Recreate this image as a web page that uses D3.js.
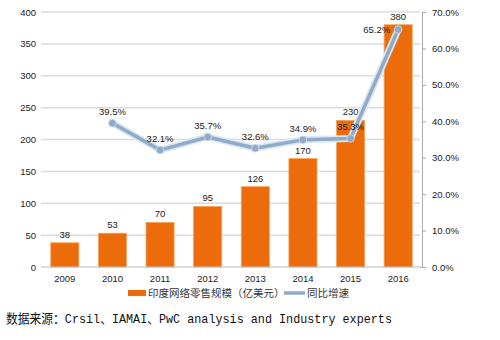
<!DOCTYPE html>
<html>
<head>
<meta charset="utf-8">
<script src="https://cdn.jsdelivr.net/npm/d3@7"></script>
<style>
  body { margin: 0; background: #fff; }
  svg text { fill: #222; }
</style>
</head>
<body>
<div id="chart"></div>
<script>
const years = ["2009", "2010", "2011", "2012", "2013", "2014", "2015", "2016"];
const retail = [38, 53, 70, 95, 126, 170, 230, 380];
const growth = [null, 39.5, 32.1, 35.7, 32.6, 34.9, 35.3, 65.2];
const leftTicks = [0, 50, 100, 150, 200, 250, 300, 350, 400];
const rightTicks = [0, 10, 20, 30, 40, 50, 60, 70];
const barName = "印度网络零售规模（亿美元）";
const lineName = "同比增速";
const source = "数据来源：Crsil、IAMAI、PwC analysis and Industry experts";

const barColor = "#ec6c0c";
const lineColor = "#90aac8";
const sans = "'Liberation Sans', 'Noto Sans CJK SC', sans-serif";

var svg = d3.select("#chart").append("svg").attr("width", 500).attr("height", 340);
var margin = {top: 12, right: 78, bottom: 73, left: 41};
var width = 500 - margin.left - margin.right;
var height = 340 - margin.top - margin.bottom;
var g = svg.append("g").attr("transform", "translate(" + margin.left + "," + margin.top + ")");

var x = d3.scaleBand().domain(years).range([0, width]).paddingInner(0.41).paddingOuter(0.205);
var y = d3.scaleLinear().domain([0, 400]).range([height, 0]);
var y2 = d3.scaleLinear().domain([0, 70]).range([height, 0]);

// gridlines
g.selectAll(".grid").data(leftTicks.filter(d => d > 0)).enter().append("line")
  .attr("x1", 0).attr("x2", width - 2)
  .attr("y1", d => y(d)).attr("y2", d => y(d))
  .attr("stroke", "#dcdcdc").attr("stroke-width", 1.5);

// left axis
g.append("g")
  .call(d3.axisLeft(y).tickValues(leftTicks).tickSize(0).tickPadding(5))
  .call(a => a.select(".domain").remove())
  .call(a => a.selectAll("text").style("font-size", "9.5px").style("fill", "#222").style("font-family", sans));

// right axis
g.append("g")
  .attr("transform", `translate(${width},0)`)
  .call(d3.axisRight(y2).tickValues(rightTicks).tickSize(4).tickPadding(6).tickFormat(d => d.toFixed(1) + "%"))
  .call(a => a.select(".domain").attr("stroke", "#aaa"))
  .call(a => a.selectAll(".tick line").attr("stroke", "#aaa"))
  .call(a => a.selectAll("text").style("font-size", "9.5px").style("fill", "#222").style("font-family", sans));

// bars
g.selectAll(".bar").data(years).enter().append("rect")
  .attr("x", d => x(d))
  .attr("y", (d, i) => y(retail[i]))
  .attr("width", x.bandwidth())
  .attr("height", (d, i) => height - y(retail[i]))
  .attr("fill", barColor)
  .attr("stroke", "#f6a35c").attr("stroke-width", 0.8);

// x baseline
g.append("line").attr("x1", 0).attr("x2", width).attr("y1", height).attr("y2", height)
  .attr("stroke", "#bbb").attr("stroke-width", 1);

// x labels
g.append("g")
  .attr("transform", `translate(0,${height})`)
  .call(d3.axisBottom(x).tickSize(0).tickPadding(8))
  .call(a => a.select(".domain").remove())
  .call(a => a.selectAll("text").style("font-size", "9.5px").style("fill", "#222").style("font-family", sans));

// bar value labels
g.selectAll(".blabel").data(years).enter().append("text")
  .attr("x", d => x(d) + x.bandwidth() / 2)
  .attr("y", (d, i) => y(retail[i]) - 5)
  .attr("text-anchor", "middle")
  .style("font-size", "9.5px").style("font-family", sans)
  .text((d, i) => retail[i]);

// growth line
const pts = years.map((d, i) => ({year: d, v: growth[i]})).filter(p => p.v !== null);
const line = d3.line().x(p => x(p.year) + x.bandwidth() / 2).y(p => y2(p.v));
g.append("path").datum(pts).attr("d", line)
  .attr("fill", "none").attr("stroke", "#dbe8f4").attr("stroke-width", 7).attr("stroke-linejoin", "round");
g.append("path").datum(pts).attr("d", line)
  .attr("fill", "none").attr("stroke", lineColor).attr("stroke-width", 3.5).attr("stroke-linejoin", "round");
g.selectAll(".dot").data(pts).enter().append("circle")
  .attr("cx", p => x(p.year) + x.bandwidth() / 2)
  .attr("cy", p => y2(p.v))
  .attr("r", 3.8)
  .attr("fill", lineColor).attr("stroke", "#c9d8e8").attr("stroke-width", 1);

// growth labels
g.selectAll(".glabel").data(pts).enter().append("text")
  .attr("x", p => x(p.year) + x.bandwidth() / 2 + (p.year === "2016" ? -8 : 0))
  .attr("y", p => y2(p.v) + (p.year === "2016" ? 4 : -8))
  .attr("text-anchor", p => p.year === "2016" ? "end" : "middle")
  .style("font-size", "9.5px").style("font-family", sans)
  .text(p => p.v.toFixed(1) + "%");

// legend
const lg = svg.append("g").attr("transform", "translate(128,293)");
lg.append("rect").attr("x", 0).attr("y", -3).attr("width", 18).attr("height", 6).attr("fill", barColor);
lg.append("text").attr("x", 20).attr("y", 4)
  .style("font-size", "10.5px").style("fill", "#333").style("font-family", "'Noto Sans CJK SC'")
  .text(barName);
lg.append("line").attr("x1", 156).attr("x2", 177).attr("y1", 0).attr("y2", 0)
  .attr("stroke", lineColor).attr("stroke-width", 3.5);
lg.append("text").attr("x", 179).attr("y", 4)
  .style("font-size", "10.5px").style("fill", "#333").style("font-family", "'Noto Sans CJK SC'")
  .text(lineName);

// source note
svg.append("text").attr("x", 6).attr("y", 323)
  .style("font-size", "13px").style("fill", "#111")
  .style("font-family", "'Liberation Mono', 'Noto Sans CJK SC', monospace")
  .attr("textLength", 386).attr("lengthAdjust", "spacingAndGlyphs")
  .text(source);
</script>
</body>
</html>
